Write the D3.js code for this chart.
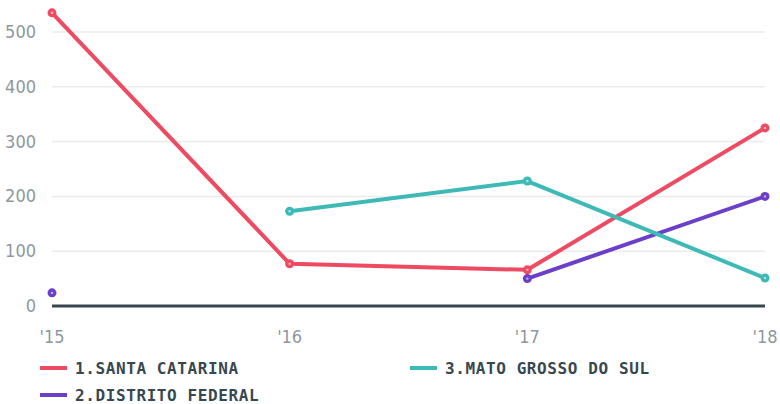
<!DOCTYPE html>
<html>
<head>
<meta charset="utf-8">
<script src="https://cdn.jsdelivr.net/npm/d3@7"></script>
<style>
  body { margin: 0; background: #fff; }
  .tick-label { font-family: "Liberation Sans Narrow", "DejaVu Sans Condensed", sans-serif; font-size: 18px; fill: #8d989d; }
  .legend-label { font-family: "DejaVu Sans Mono", monospace; font-weight: bold; font-size: 16px; fill: #37474f; letter-spacing: 0.6px; }
</style>
</head>
<body>
<div id="chart"></div>
<script>
const years = ["'15", "'16", "'17", "'18"];
const yTicks = [0, 100, 200, 300, 400, 500];

const santaCatarina = [535, 77, 66, 325];
const distritoFederal = [24, null, 50, 200];
const matoGrossoDoSul = [null, 173, 228, 51];

const seriesNames = ["1.SANTA CATARINA", "2.DISTRITO FEDERAL", "3.MATO GROSSO DO SUL"];
const seriesColors = ["#ee4a62", "#6a3fc9", "#3dbab6"];

const series = [
  { name: seriesNames[0], color: seriesColors[0], values: santaCatarina },
  { name: seriesNames[1], color: seriesColors[1], values: distritoFederal },
  { name: seriesNames[2], color: seriesColors[2], values: matoGrossoDoSul }
];

const width = 780, height = 404;
const svg = d3.select("#chart").append("svg")
  .attr("width", width).attr("height", height);

const x = d3.scalePoint().domain(years).range([52, 765]);
const y = d3.scaleLinear().domain([0, 500]).range([306, 32]);

// gridlines
svg.append("g").selectAll("line")
  .data(yTicks.filter(d => d > 0))
  .enter().append("line")
  .attr("x1", 52).attr("x2", 765)
  .attr("y1", d => y(d)).attr("y2", d => y(d))
  .attr("stroke", "#e9ebec").attr("stroke-width", 1.5);

// y labels
svg.append("g").selectAll("text")
  .data(yTicks)
  .enter().append("text")
  .attr("class", "tick-label")
  .attr("x", 36).attr("y", d => y(d) + 6)
  .attr("text-anchor", "end")
  .text(d => d);

// x labels
svg.append("g").selectAll("text")
  .data(years)
  .enter().append("text")
  .attr("class", "tick-label")
  .attr("x", d => x(d)).attr("y", 343)
  .attr("text-anchor", "middle")
  .text(d => d);

// baseline
svg.append("line")
  .attr("x1", 52).attr("x2", 765)
  .attr("y1", y(0)).attr("y2", y(0))
  .attr("stroke", "#37474f").attr("stroke-width", 3);

const line = d3.line()
  .defined(d => d.v != null)
  .x(d => x(d.year))
  .y(d => y(d.v));

series.forEach(function (s) {
  const pts = s.values.map((v, i) => ({ year: years[i], v: v }));
  svg.append("path")
    .datum(pts)
    .attr("d", line)
    .attr("fill", "none")
    .attr("stroke", s.color)
    .attr("stroke-width", 4)
    .attr("stroke-linejoin", "round");

  const dots = svg.append("g").selectAll("g")
    .data(pts.filter(d => d.v != null))
    .enter().append("g");
  dots.append("circle")
    .attr("cx", d => x(d.year)).attr("cy", d => y(d.v))
    .attr("r", 4.5).attr("fill", s.color);
  dots.append("circle")
    .attr("cx", d => x(d.year)).attr("cy", d => y(d.v))
    .attr("r", 1.2).attr("fill", "#fff").attr("opacity", 0.6);
});

// legend
const legendPos = [[40, 368], [40, 395], [410, 368]];
series.forEach(function (s, i) {
  const p = legendPos[i];
  svg.append("line")
    .attr("x1", p[0]).attr("x2", p[0] + 27)
    .attr("y1", p[1]).attr("y2", p[1])
    .attr("stroke", s.color).attr("stroke-width", 4);
  svg.append("text")
    .attr("class", "legend-label")
    .attr("x", p[0] + 35).attr("y", p[1] + 6)
    .text(s.name);
});
</script>
</body>
</html>
